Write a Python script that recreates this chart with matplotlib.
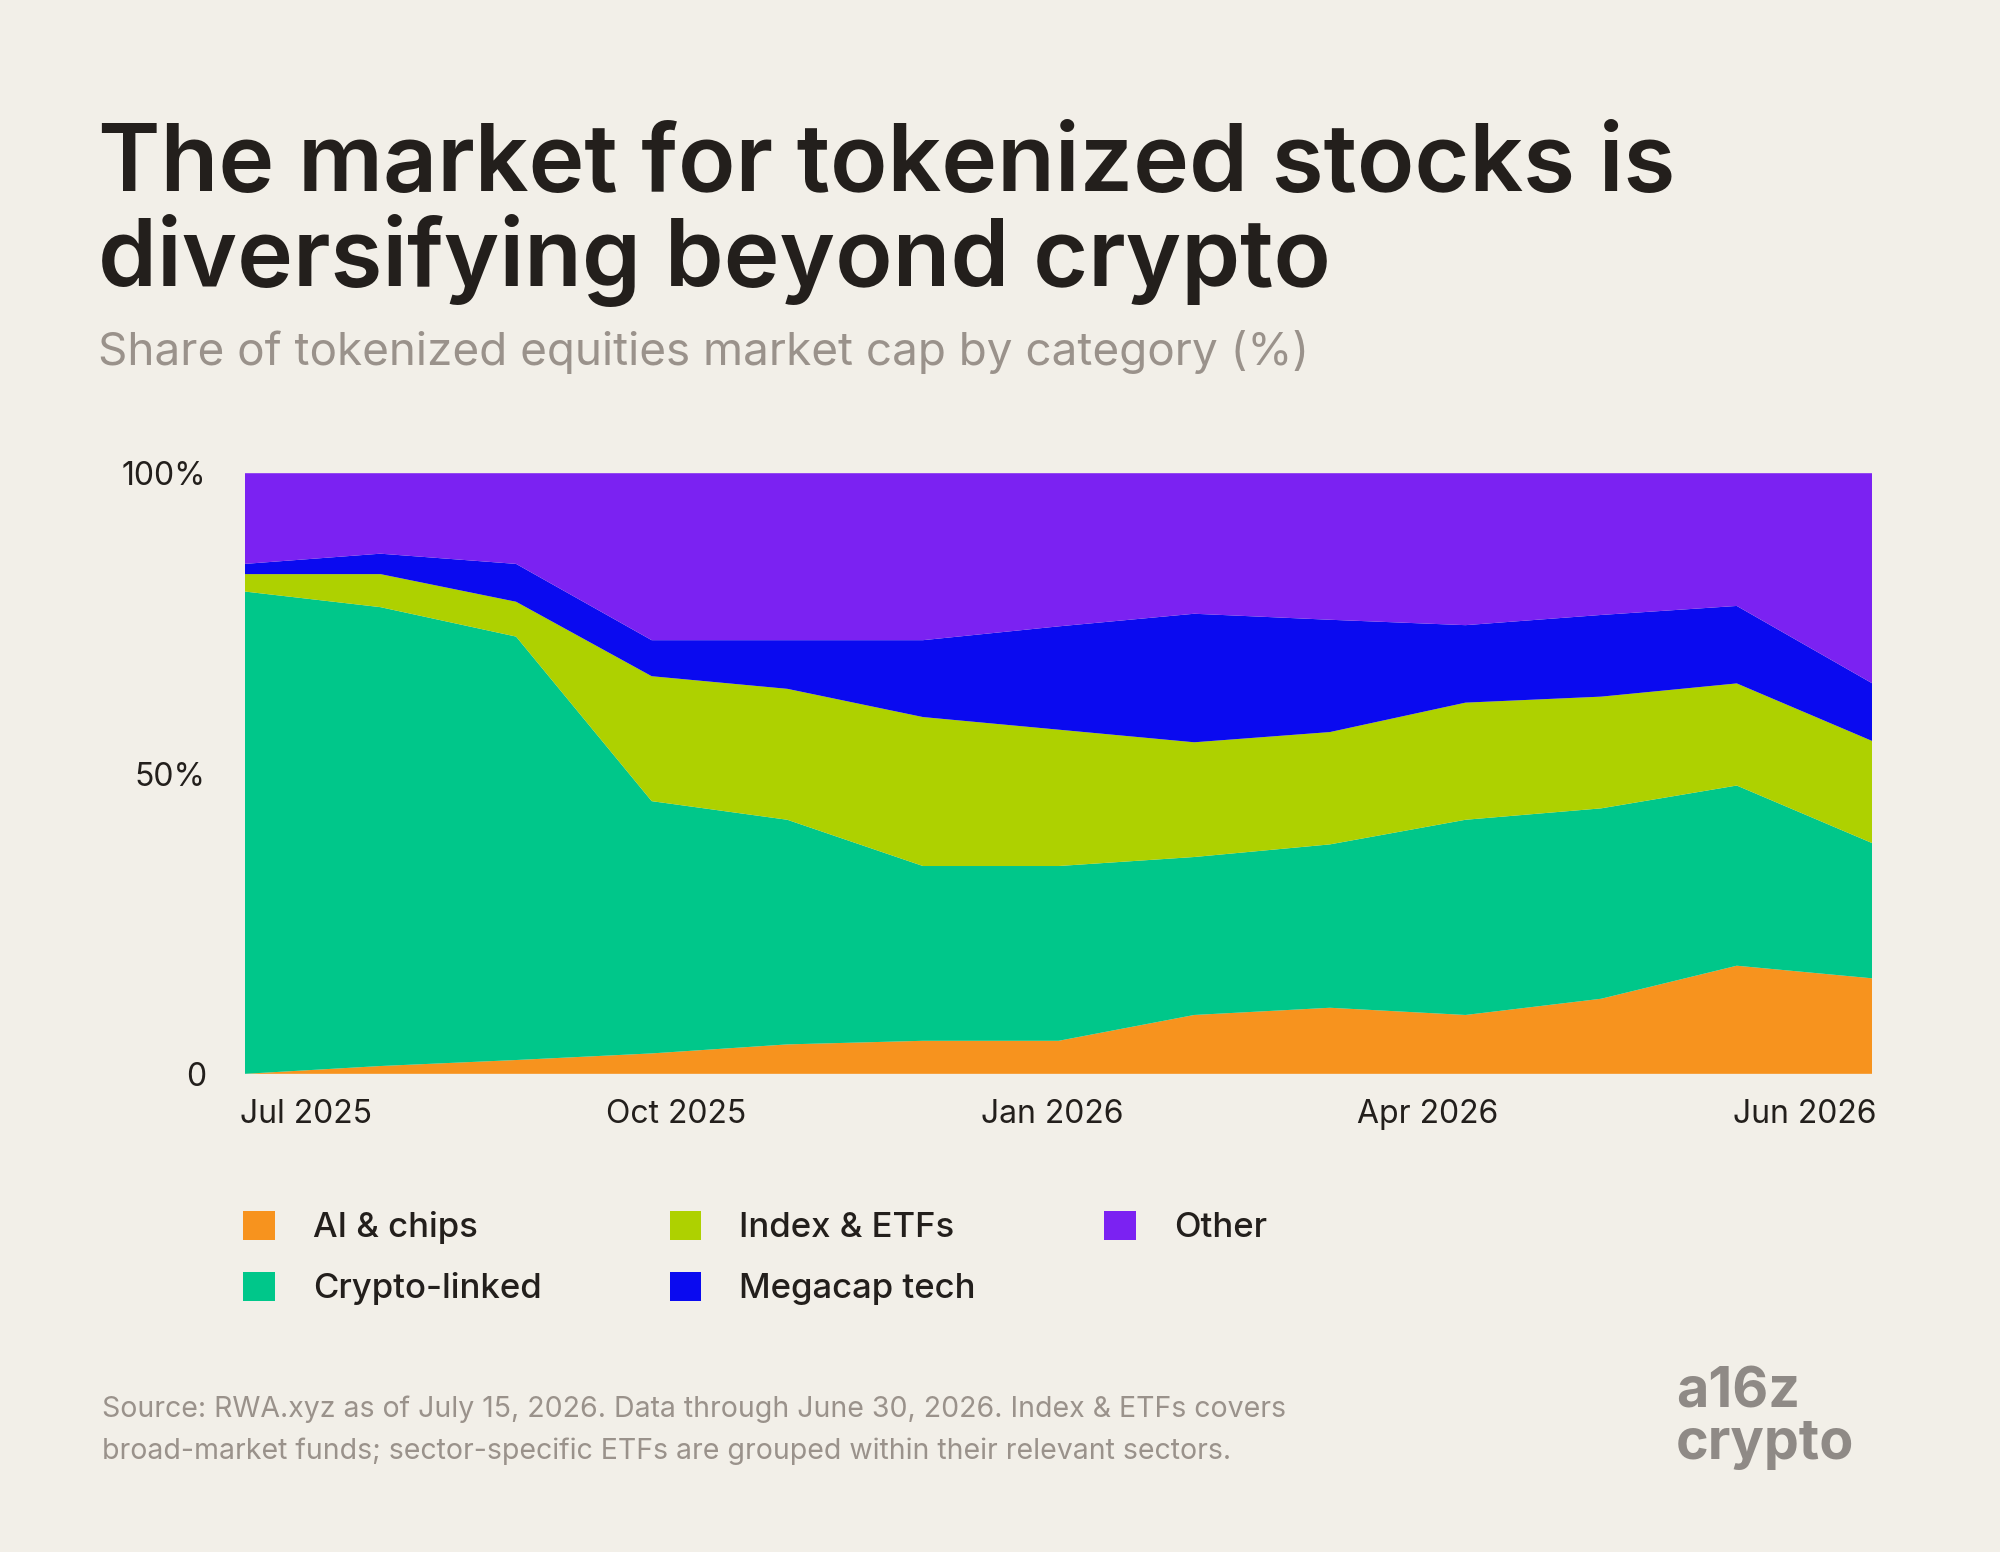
import matplotlib.pyplot as plt
from matplotlib.patches import Patch

BG = "#F2EFE8"
DARK = "#231F1C"
GREY = "#9A928B"

# shares in %, 13 snapshots
periods = list(range(13))
ai_chips = [0.0, 1.3, 2.3, 3.4, 4.9, 5.5, 5.5, 9.8, 11.0, 9.8, 12.5, 18.0, 15.9]
crypto_linked = [80.3, 76.4, 70.5, 42.0, 37.4, 29.1, 29.1, 26.3, 27.2, 32.5, 31.7, 30.0, 22.5]
index_etfs = [2.9, 5.5, 5.8, 20.8, 21.8, 24.8, 22.7, 19.1, 18.7, 19.5, 18.6, 17.0, 17.0]
megacap_tech = [1.7, 3.4, 6.3, 6.0, 8.1, 12.8, 17.2, 21.4, 18.7, 12.9, 13.6, 12.9, 9.6]
other = [15.1, 13.4, 15.1, 27.8, 27.8, 27.8, 25.5, 23.4, 24.4, 25.3, 23.6, 22.1, 35.0]

labels = ["AI & chips", "Crypto-linked", "Index & ETFs", "Megacap tech", "Other"]
colors = ["#F7931E", "#00C78A", "#AED100", "#0A0AF0", "#7B22F2"]

tick_pos = [0.45, 3.18, 5.95, 8.72, 11.5]
tick_labels = ["Jul 2025", "Oct 2025", "Jan 2026", "Apr 2026", "Jun 2026"]

plt.rcParams["font.family"] = ["Inter", "DejaVu Sans"]

fig = plt.figure(figsize=(20, 15.52), dpi=100, facecolor=BG)
ax = fig.add_axes([0.1224, 0.3081, 0.8138, 0.387])
ax.set_facecolor(BG)

ax.stackplot(periods, ai_chips, crypto_linked, index_etfs, megacap_tech, other,
             colors=colors, linewidth=0)
ax.set_xlim(0, 12)
ax.set_ylim(0, 100)
for s in ax.spines.values():
    s.set_visible(False)
ax.set_yticks([0, 50, 100], ["0", "50%", "100%"])
ax.set_xticks(tick_pos, tick_labels)
ax.tick_params(length=0, labelsize=23, colors=DARK)
ax.tick_params(axis="y", pad=28)
ax.tick_params(axis="x", pad=18)

fig.text(0.049, 0.877, "The market for tokenized stocks is", fontsize=68,
         weight="semibold", color=DARK, va="baseline")
fig.text(0.049, 0.816, "diversifying beyond crypto", fontsize=68,
         weight="semibold", color=DARK, va="baseline")
fig.text(0.049, 0.765, "Share of tokenized equities market cap by category (%)",
         fontsize=33, color=GREY, va="baseline")

handles = [Patch(facecolor=c, edgecolor="none") for c in colors]
fig.legend(handles, labels, ncol=3, loc="upper left", bbox_to_anchor=(0.106, 0.240),
           frameon=False, prop={"size": 25, "weight": "medium"},
           handlelength=0.9, handleheight=0.9,
           columnspacing=3.7, labelspacing=0.8, handletextpad=1.1,
           labelcolor=DARK)

fig.text(0.051, 0.087,
         "Source: RWA.xyz as of July 15, 2026. Data through June 30, 2026. Index & ETFs covers",
         fontsize=20.5, color=GREY, va="baseline")
fig.text(0.051, 0.060,
         "broad-market funds; sector-specific ETFs are grouped within their relevant sectors.",
         fontsize=20.5, color=GREY, va="baseline")

fig.text(0.838, 0.093, "a16z", fontsize=40, weight="bold", color="#8F8A86", va="baseline")
fig.text(0.838, 0.060, "crypto", fontsize=40, weight="bold", color="#8F8A86", va="baseline")

fig.savefig("out.png", dpi=100, facecolor=BG)
